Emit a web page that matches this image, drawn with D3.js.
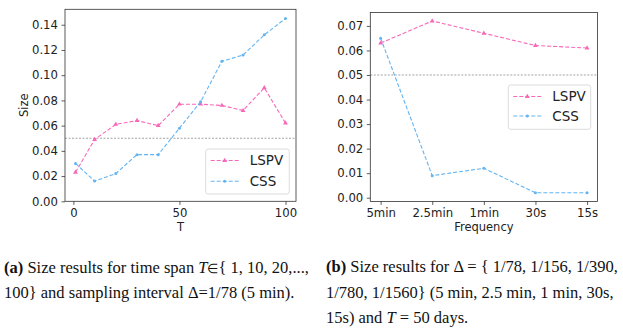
<!DOCTYPE html>
<html>
<head>
<meta charset="utf-8">
<script src="https://cdn.jsdelivr.net/npm/d3@7"></script>
<style>
  body { margin: 0; background: #fff; }
  svg { display: block; }
  .tick text { font-family: "DejaVu Sans", sans-serif; font-size: 11.7px; fill: #222; }
  .cap { font-family: "Liberation Serif", "Times New Roman", serif; font-size: 16.5px; fill: #111; }
</style>
</head>
<body>
<script>
// panel (a): time span
const spanT = [1, 10, 20, 30, 40, 50, 60, 70, 80, 90, 100];
const spanLSPV = [0.023, 0.049, 0.061, 0.064, 0.060, 0.077, 0.077, 0.076, 0.072, 0.090, 0.062];
const spanCSS = [0.030, 0.016, 0.022, 0.037, 0.037, 0.058, 0.079, 0.111, 0.116, 0.132, 0.145];
const spanYTicks = [0, 0.02, 0.04, 0.06, 0.08, 0.10, 0.12, 0.14];
const spanXTicks = [0, 50, 100];

// panel (b): frequency
const freqLabels = ["5min", "2.5min", "1min", "30s", "15s"];
const freqLSPV = [0.063, 0.072, 0.067, 0.062, 0.061];
const freqCSS = [0.065, 0.009, 0.012, 0.002, 0.002];
const freqYTicks = [0, 0.01, 0.02, 0.03, 0.04, 0.05, 0.06, 0.07];

const threshold = 0.05;
const pink = "#f768b9";
const blue = "#62b4f2";

var svg = d3.select("body").append("svg")
    .attr("width", 623)
    .attr("height", 330);

function drawPanel(cfg) {
    var x = d3.scaleLinear().domain(cfg.xDomain).range([cfg.left, cfg.right]);
    var y = d3.scaleLinear().domain(cfg.yDomain).range([cfg.bottom, cfg.top]);
    var g = svg.append("g");

    // reference line
    g.append("line")
        .attr("x1", cfg.left).attr("x2", cfg.right)
        .attr("y1", y(threshold)).attr("y2", y(threshold))
        .style("stroke", "#999").style("stroke-width", 0.9)
        .style("stroke-dasharray", "2,1.5");

    var series = [
        {name: "LSPV", vals: cfg.lspv, color: pink, mark: "tri"},
        {name: "CSS", vals: cfg.css, color: blue, mark: "dot"}
    ];

    series.forEach(s => {
        var pts = s.vals.map((v, i) => [x(cfg.xs[i]), y(v)]);
        g.append("path")
            .attr("d", d3.line()(pts))
            .style("fill", "none")
            .style("stroke", s.color)
            .style("stroke-width", 1.1)
            .style("stroke-dasharray", "4,2");
        drawMarks(g, pts, s);
    });

    // axes
    var yAxis = d3.axisLeft(y).tickValues(cfg.yTicks).tickFormat(d3.format(".2f"))
        .tickSize(3.5).tickPadding(3.5);
    var xAxis = d3.axisBottom(x).tickValues(cfg.xTicks).tickFormat(cfg.xFormat)
        .tickSize(3.5).tickPadding(3.5);
    var ya = g.append("g").attr("transform", "translate(" + cfg.left + ",0)").call(yAxis);
    var xa = g.append("g").attr("transform", "translate(0," + cfg.bottom + ")").call(xAxis);
    [ya, xa].forEach(a => {
        a.select(".domain").remove();
        a.selectAll(".tick line").style("stroke", "#333").style("stroke-width", 0.8);
    });

    g.append("rect")
        .attr("x", cfg.left).attr("y", cfg.top)
        .attr("width", cfg.right - cfg.left).attr("height", cfg.bottom - cfg.top)
        .style("fill", "none").style("stroke", "#333").style("stroke-width", 0.8);

    // labels
    g.append("text")
        .attr("x", (cfg.left + cfg.right) / 2).attr("y", 231)
        .style("text-anchor", "middle")
        .style("font-family", "DejaVu Sans").style("font-size", "11.5px").style("fill", "#222")
        .text(cfg.xLabel);
    if (cfg.yLabel) {
        g.append("text")
            .attr("transform", "translate(" + 28 + "," + ((cfg.top + cfg.bottom) / 2) + ") rotate(-90)")
            .style("text-anchor", "middle")
            .style("font-family", "DejaVu Sans").style("font-size", "11.5px").style("fill", "#222")
            .text(cfg.yLabel);
    }

    // legend
    var lg = cfg.legend;
    g.append("rect")
        .attr("x", lg.x).attr("y", lg.y).attr("width", lg.w).attr("height", lg.h)
        .attr("rx", 2.5)
        .style("fill", "#fff").style("fill-opacity", 0.85)
        .style("stroke", "#d8d8d8").style("stroke-width", 0.9);
    series.forEach((s, i) => {
        var cy = lg.y + 11.5 + i * lg.gap;
        g.append("line")
            .attr("x1", lg.x + 5).attr("x2", lg.x + 33)
            .attr("y1", cy).attr("y2", cy)
            .style("stroke", s.color).style("stroke-width", 1.1)
            .style("stroke-dasharray", "4,2");
        drawMarks(g, [[lg.x + 19, cy]], s);
        g.append("text")
            .attr("x", lg.x + 44).attr("y", cy)
            .attr("dy", "0.36em")
            .style("font-family", "DejaVu Sans").style("font-size", "13.5px").style("fill", "#222")
            .text(s.name);
    });
}

function drawMarks(g, pts, s) {
    if (s.mark == "tri") {
        g.selectAll(null).data(pts).enter().append("path")
            .attr("transform", d => "translate(" + d[0] + "," + d[1] + ")")
            .attr("d", d3.symbol().type(d3.symbolTriangle).size(10))
            .style("fill", s.color);
    } else {
        g.selectAll(null).data(pts).enter().append("circle")
            .attr("cx", d => d[0]).attr("cy", d => d[1])
            .attr("r", 1.5)
            .style("fill", s.color);
    }
}

drawPanel({
    xs: spanT, lspv: spanLSPV, css: spanCSS,
    xDomain: [-3.95, 104.95], yDomain: [0, 0.15225],
    left: 65, right: 296, top: 9.3, bottom: 201.3,
    yTicks: spanYTicks, xTicks: spanXTicks, xFormat: d3.format("d"),
    xLabel: "T", yLabel: "Size",
    legend: {x: 205.7, y: 149, w: 83.6, h: 45, gap: 20.7}
});

drawPanel({
    xs: freqLabels.map((d, i) => i), lspv: freqLSPV, css: freqCSS,
    xDomain: [-0.2, 4.2], yDomain: [-0.0015, 0.0755],
    left: 370.3, right: 597.4, top: 12.4, bottom: 201.4,
    yTicks: freqYTicks, xTicks: freqLabels.map((d, i) => i), xFormat: i => freqLabels[i],
    xLabel: "Frequency", yLabel: null,
    legend: {x: 508.3, y: 85, w: 82.4, h: 44.3, gap: 19.5}
});

// captions
function caption(x, y, parts) {
    var t = svg.append("text").attr("class", "cap").attr("x", x).attr("y", y);
    parts.forEach(p => {
        var ts = t.append("tspan").text(p[0]);
        if (p[1] == "b") ts.style("font-weight", "bold");
        if (p[1] == "i") ts.style("font-style", "italic");
        if (p[1] == "s") ts.style("font-size", "13px");
    });
}

caption(4, 272.5, [["(a)", "b"], [" Size results for time span "], ["T", "i"], ["\u2208", "s"], ["{ 1, 10, 20,...,"]]);
caption(4, 298, [["100} and sampling interval \u0394=1/78 (5 min)."]]);
caption(326, 272, [["(b)", "b"], [" Size results for \u0394 = { 1/78, 1/156, 1/390,"]]);
caption(326, 297.5, [["1/780, 1/1560} (5 min, 2.5 min, 1 min, 30s,"]]);
caption(326, 323, [["15s) and "], ["T", "i"], [" = 50 days."]]);
</script>
</body>
</html>
